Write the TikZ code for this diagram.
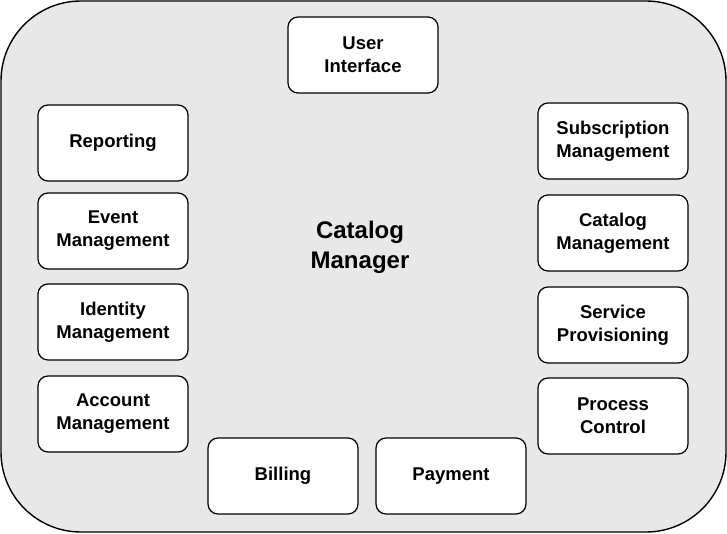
\documentclass[tikz,border=0pt]{standalone}
\usepackage{fontspec}
\setmainfont{Liberation Sans}
\usepackage{tikz}
\definecolor{panelgray}{HTML}{E8E8E8}
\tikzset{
  module/.style={draw, fill=white, rounded corners=10pt, line width=1.2pt,
    minimum width=150pt, minimum height=76pt, align=center,
    font=\fontsize{18.5}{23}\selectfont\bfseries},
  panel/.style={draw, fill=panelgray, rounded corners=80pt, line width=1.4pt}
}
\begin{document}
\begin{tikzpicture}[x=1pt, y=-1pt]
      \useasboundingbox (0,0) rectangle (727,534);
      % Outer panel
      \node[panel, minimum width=725pt, minimum height=531pt, inner sep=0pt] (frame) at (363.5,266.5) {};
      \node[font=\fontsize{24}{30}\selectfont\bfseries, align=center] (core) at (360,247) {Catalog\\Manager};
      % Define nodes
      \node[module] (ui) at (363,55) {User\\Interface};
      \node[module] (rep) at (113,143) {Reporting};
      \node[module] (evt) at (113,231) {Event\\Management};
      \node[module] (idm) at (113,322) {Identity\\Management};
      \node[module] (acc) at (113,414) {Account\\Management};
      \node[module] (sub) at (613,141) {Subscription\\Management};
      \node[module] (cat) at (613,233) {Catalog\\Management};
      \node[module] (svc) at (613,325) {Service\\Provisioning};
      \node[module] (prc) at (613,416) {Process\\Control};
      \node[module] (bil) at (283,476) {Billing};
      \node[module] (pay) at (451,476) {Payment};
\end{tikzpicture}
\end{document}
